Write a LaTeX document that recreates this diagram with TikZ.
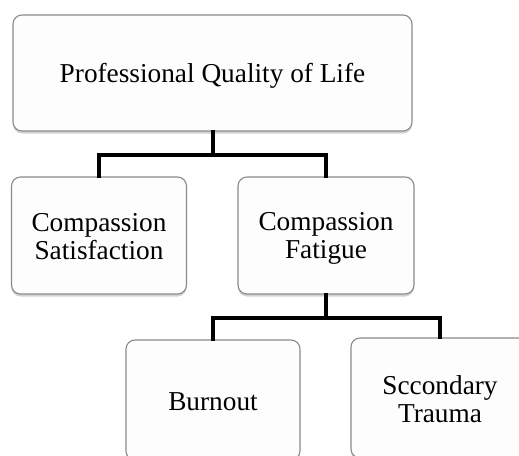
\documentclass[tikz,border=0pt]{standalone}
\usepackage{fontspec}
\setmainfont{Liberation Serif}
\usetikzlibrary{shadows}
\definecolor{boxborder}{HTML}{8A8A8A}
\definecolor{boxfill}{HTML}{FDFDFD}
\newcommand\tstr{\rule{0pt}{24pt}}
\newcommand\bstr{\rule[-4pt]{0pt}{4pt}}
\begin{document}
\begin{tikzpicture}[x=1pt,y=-1pt,
  box/.style={draw=boxborder, line width=1.1pt, fill=boxfill, rounded corners=9pt,
    drop shadow={shadow xshift=0pt, shadow yshift=-2.5pt, opacity=0.25, fill=black!70},
    align=center, font=\fontsize{27.3}{28}\selectfont, inner sep=0pt},
  link/.style={line width=4pt, draw=black, line cap=rect}]
\useasboundingbox (0,0) rectangle (519,455);
\clip (0,0) rectangle (519,455);
\node[box, minimum width=399pt, minimum height=116pt] (top) at (212.5,73) {\tstr Professional Quality of Life\bstr};
\node[box, minimum width=175pt, minimum height=117pt] (cs) at (99,235.5) {\tstr Compassion\\Satisfaction\bstr};
\node[box, minimum width=176pt, minimum height=117pt] (cf) at (326,235.5) {\tstr Compassion\\Fatigue\bstr};
\node[box, minimum width=174pt, minimum height=120pt] (bo) at (213,400) {\tstr Burnout\bstr};
\node[box, minimum width=178pt, minimum height=120pt] (st) at (440,398) {\tstr Sccondary\\Trauma\bstr};
\coordinate (j1) at (212.5,155);
\coordinate (j2) at (326,318);
\draw[link] (top.south) -- (j1);
\draw[link] (cs.north) |- (j1) -| (cf.north);
\draw[link] (cf.south) -- (j2);
\draw[link] (bo.north) |- (j2) -| (st.north);
\end{tikzpicture}
\end{document}
